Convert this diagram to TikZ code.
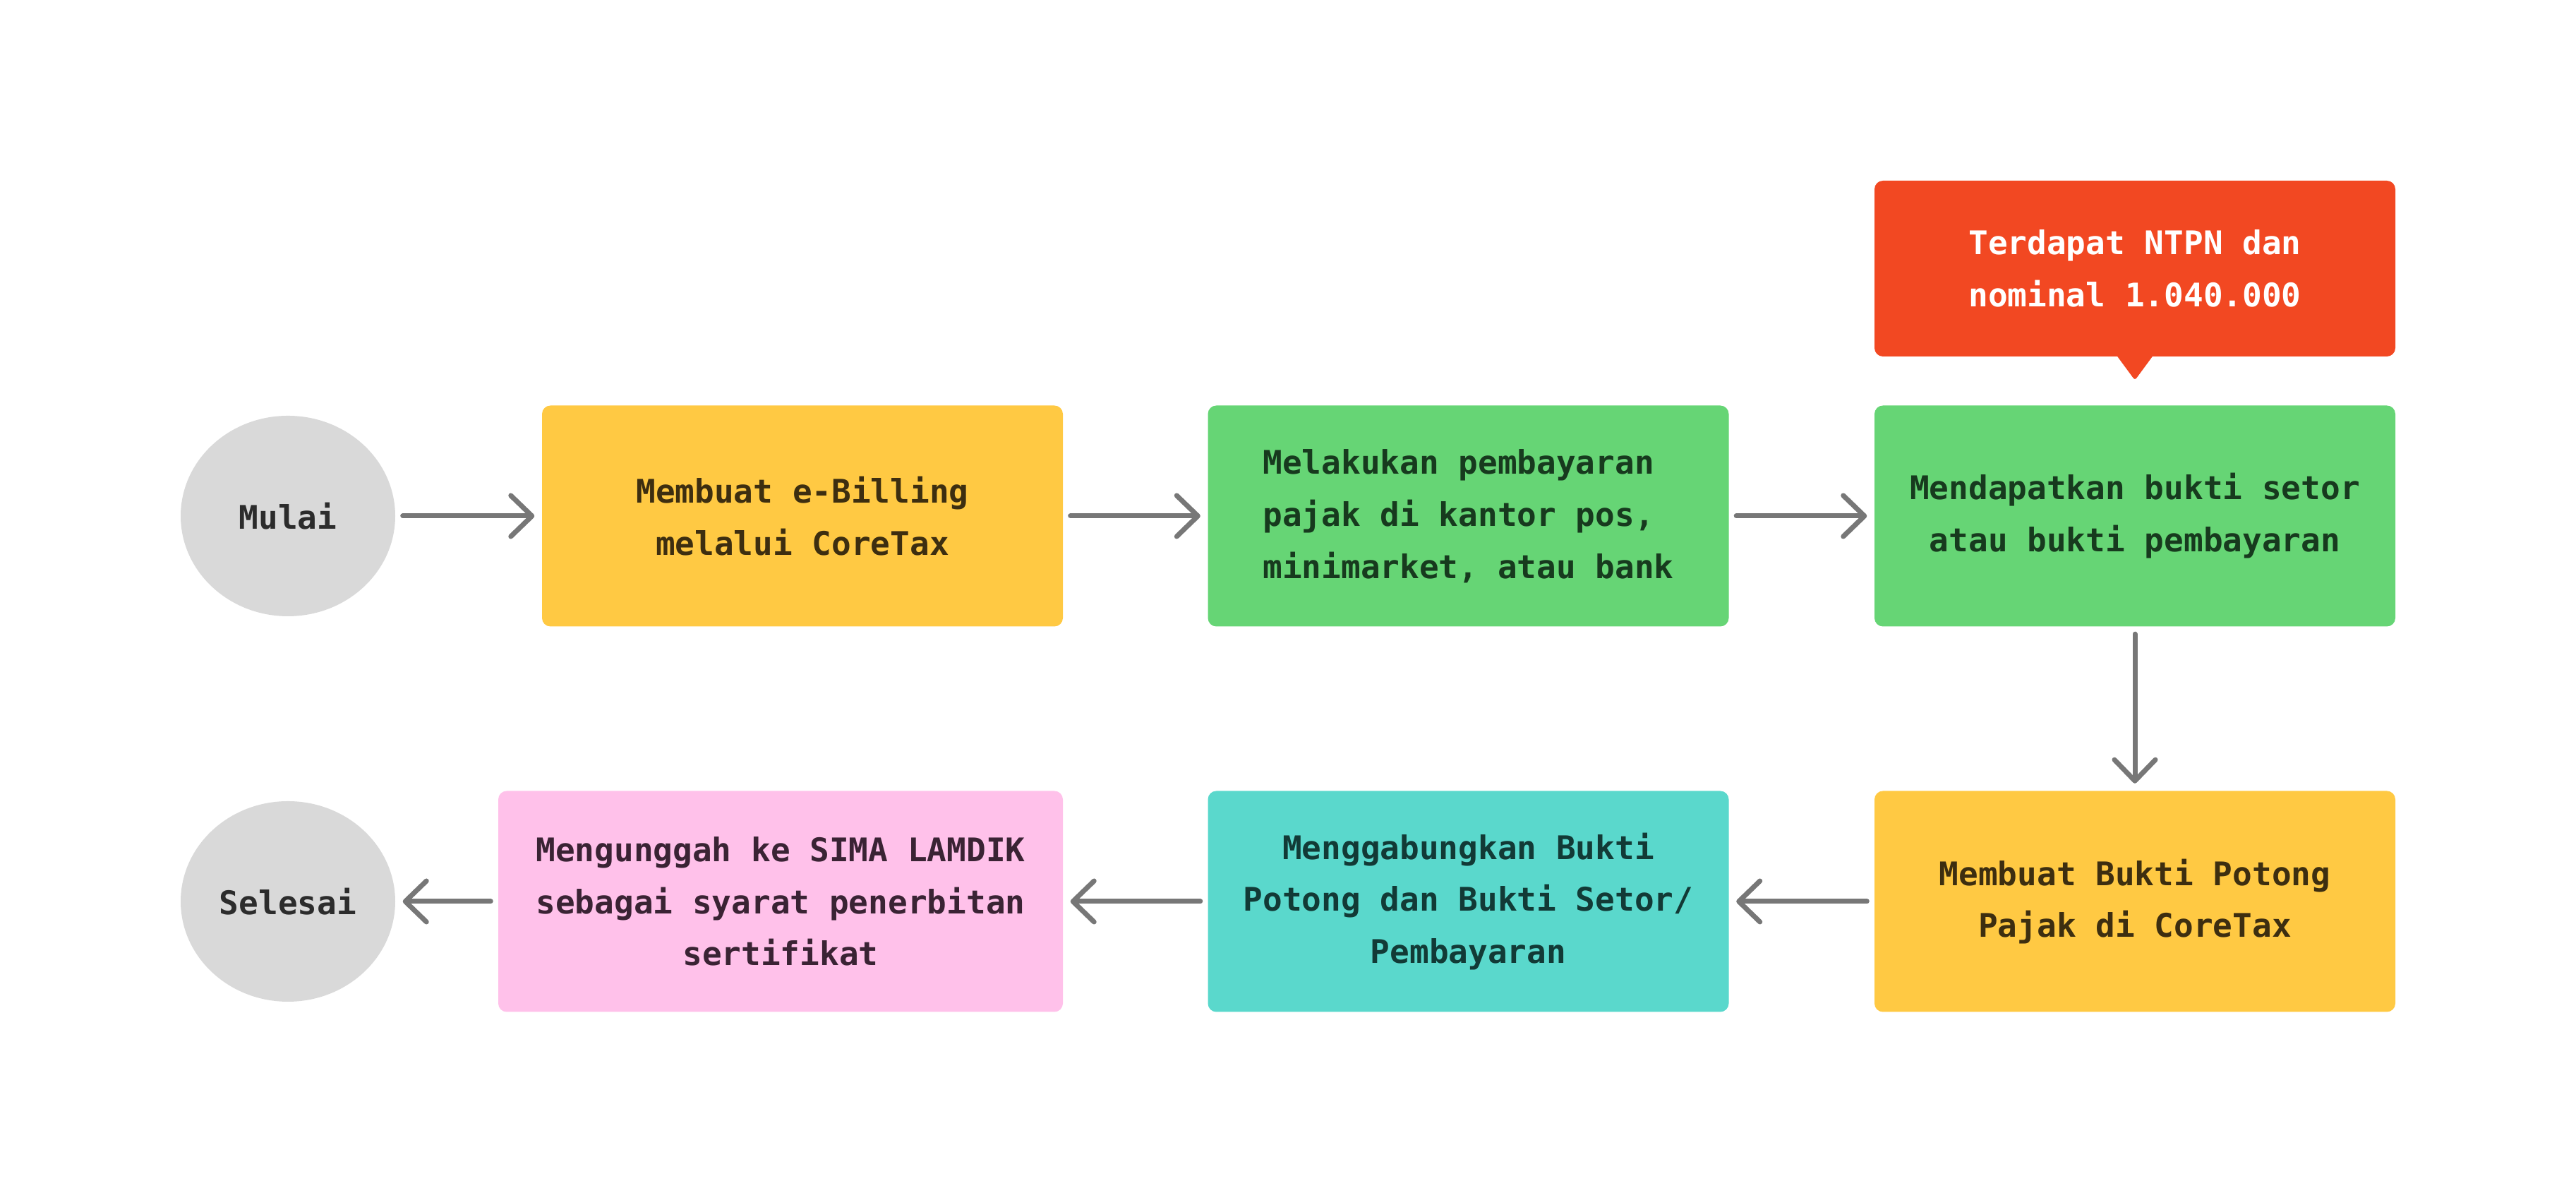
\documentclass[tikz,border=0pt]{standalone}
\usepackage{fontspec}
\usepackage{color}
\usepackage{tikz}
\setmonofont{DejaVu Sans Mono}
\definecolor{kuning}{HTML}{FFC943}
\definecolor{hijau}{HTML}{66D575}
\definecolor{tosca}{HTML}{5AD8CC}
\definecolor{pink}{HTML}{FFC1EA}
\definecolor{merah}{HTML}{F24822}
\definecolor{abu}{HTML}{D9D9D9}
\definecolor{gray500}{HTML}{777777}
\definecolor{teksKuning}{HTML}{3D2E10}
\definecolor{teksHijau}{HTML}{173A1E}
\definecolor{teksTosca}{HTML}{123A36}
\definecolor{teksPink}{HTML}{3A2334}
\definecolor{teksAbu}{HTML}{2C2C2C}
\usetikzlibrary{arrows.meta,shapes.geometric}
\tikzstyle{kotak}=[rectangle, rounded corners=0.12cm, minimum width=7.38cm, minimum height=3.13cm, inner sep=0pt, align=center, font=\ttfamily\bfseries\fontsize{13.1pt}{21pt}\selectfont]
\tikzstyle{bulat}=[ellipse, fill=abu, text=teksAbu, minimum width=3.04cm, minimum height=2.84cm, inner sep=0pt, font=\ttfamily\bfseries\fontsize{13.1pt}{21pt}\selectfont]
\tikzstyle{panah}=[draw=gray500, line width=2pt, line cap=round, -{Straight Barb[length=0.3cm, width=0.58cm, round]}, shorten >=0.1cm, shorten <=0.1cm]

\begin{document}
\begin{tikzpicture}
				\useasboundingbox (0,0) rectangle (36.5,16.9);
				\node[bulat] (p0) at (4.08,9.59) {Mulai};
				\node[kotak, fill=kuning, text=teksKuning] (p1) at (11.37,9.59) {Membuat e-Billing\\melalui CoreTax};
				\node[kotak, fill=hijau, text=teksHijau, align=left] (p2) at (20.805,9.59) {Melakukan pembayaran\\pajak di kantor pos,\\minimarket, atau bank};
				\node[kotak, fill=hijau, text=teksHijau] (p3) at (30.25,9.59) {Mendapatkan bukti setor\\atau bukti pembayaran};
				\node[kotak, fill=kuning, text=teksKuning] (p4) at (30.25,4.13) {Membuat Bukti Potong\\Pajak di CoreTax};
				\node[kotak, fill=tosca, text=teksTosca] (p5) at (20.805,4.13) {Menggabungkan Bukti\\Potong dan Bukti Setor/\\Pembayaran};
				\node[kotak, fill=pink, text=teksPink, minimum width=8cm] (p6) at (11.06,4.13) {Mengunggah ke SIMA LAMDIK\\sebagai syarat penerbitan\\sertifikat};
				\node[bulat] (p7) at (4.08,4.13) {Selesai};
				\node[kotak, fill=merah, text=white, minimum height=2.49cm] (c1) at (30.25,13.095) {Terdapat NTPN dan\\nominal 1.040.000};
				\fill[merah, rounded corners=1pt] ([xshift=-0.28cm, yshift=0.05cm]c1.south) 
					-- ([yshift=-0.33cm]c1.south) 
					-- ([xshift=0.28cm, yshift=0.05cm]c1.south) -- cycle;
				\path[panah] (p0) -- (p1);
				\path[panah] (p1) -- (p2);
				\path[panah] (p2) -- (p3);
				\path[panah] (p3) -- (p4);
				\path[panah] (p4) -- (p5);
				\path[panah] (p5) -- (p6);
				\path[panah] (p6) -- (p7);
			\end{tikzpicture}
\end{document}
